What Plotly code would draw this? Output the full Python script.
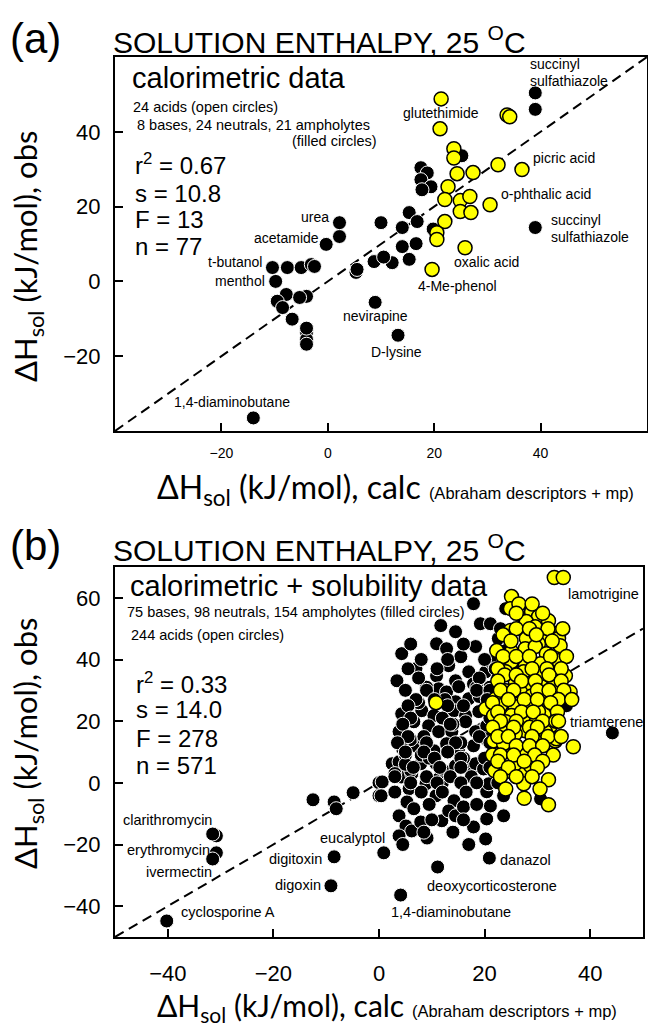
import plotly.graph_objects as go

W, H = 648, 1025

# ---------------- Panel (a) data (calorimetric) ----------------
a_base_x = [39, 39, 39, 25.2, 17.5, 18.7, 17.5, 19.4, 17.7, 15.3, 16.8, 14, 10, 14, 8.7, 12.1, 15.3,
            8.9, 13.2, -0.3, 2.2, 2.2, -10.4, -7.6, -5, -3.1, -2.5, -9.8, -7.8, -9.5, -8.5, -6.7,
            -4, -5.3, -4, -4, -4, -4, 5.3, 5.5, 10.5, 16.6, 19.8, -14]
a_base_y = [50.4, 46, 14.4, 33.6, 30.4, 29, 27.2, 25.3, 24.5, 18.4, 16, 14.4, 15.7, 9.3, 5.3, 5, 5.9,
            -5.6, -14.4, 9.9, 12, 15.7, 3.7, 3.7, 3.7, 4.5, 4.0, 0, -3.5, -5.3, -7, -10.1,
            -4, -4.3, -13.6, -15.5, -16.8, -12.5, 2.4, 3.2, 6.5, 10.1, 14, -36.5]
a_acid_x = [21.3, 21.1, 33.7, 34.2, 23.7, 23.7, 32, 36.5, 24.3, 27.3, 22.6, 22, 24.9, 26.7, 30.5,
            24.9, 26.9, 22, 20.5, 20.5, 25.8, 19.6]
a_acid_y = [48.8, 40.8, 44.5, 44, 35.5, 33, 31.2, 29.9, 28.8, 29.1, 25.3, 21.9, 21.6, 22.7, 20.5,
            18.7, 18.4, 16, 13, 11.2, 9, 3.2]

# ---------------- Panel (b) data (calorimetric + solubility) ----------------
b_base_x = [-12.5, -8.5, -8.1, -4.9, 0, 0, -8.5, -9.1, 0.9, 11.1, 4.1, 20.9, 44.2,
            -30.8, -31.5, -30.8, -31.5, -40.2,
            17.9, 24, 27.4, 11.7, 14.5, 19.2, 21.1, 4.3, 10.9, 12.8, 15.5, 18.3, 22.6, 23, 13.2, 17,
            20.2, 14.5, 10.9, 3.4, 17.9, 11.3, 12.8, 15.1, 21.1, 24, 14.5, 17, 4.3, 8.1, 10.4, 14.2,
            16.4, 18.9, 3.8, 6.6, 9.4, 11.3, 13.8, 16.4, 18.3, 20.4, 7, 10.4, 12.8, 15.1, 17.9, 20.2,
            35.5, 27,
            2.5, 0.6, 0.4, 4.2, 3.8, 5.7, 5.3, 6.6, 5.1, 6.2, 7.9, 3.8, 9.1, 6.2, 7.9, 8.9, 11.3, 10.8,
            11.9, 14.2, 13.2, 14.5, 16, 17.9, 20.2, 20.4, 21.1, 20.4, 20.8, 23.6, 23.6, 30.6, 12.6,
            14.5, 17.4, 16.4, 10.8, 3.8, 18.3, 19.8,
            3, 5, 6, 8, 6, 7, 9, 5, 7.5, 9.5, 12, 14, 16, 19, 21, 22,
            4.5, 8.5, 12.5, 15.5, 18.5, 22.5, 25, 26.5, 24.5, 27,
            6, 16, 8, 13, 20, 5.5, 11, 22, 7.5, 19, 22.5, 5, 9, 18.5, 21, 7, 10.5, 20.5,
            5.5, 13, 16, 6, 12, 21, 4.5, 13.5, 5.5, 8.5, 19, 3.5, 9, 14.5, 21, 5, 8.5, 13,
            10.5, 15.5, 20, 6.5, 11.5, 15.5, 21, 3, 9, 13.5, 17.5, 6, 11, 15.5, 18.5,
            3, 8, 12, 16.5, 9.5, 18.5, 10, 16, 8.5, 14, 4.5, 17]
b_base_y = [-5.5, -6.2, -8.4, -3.2, 0, -4.2, -24, -33.4, -22.7, -27.3, -36.4, -24.4, 16.2,
            -17.2, -16.6, -22.7, -24.7, -44.8,
            58.1, 56.5, 56.5, 51, 49, 51.6, 51.6, 41.9, 45.1, 43.5, 40.9, 44.2, 46.8, 50, 38, 36,
            36, 33.1, 34.7, 33.1, 32.1, 30.5, 29.5, 31.2, 39.3, 42.9, 26.3, 27.3, 22.4, 23.4, 21.8, 23.4,
            21.8, 23.1, 16.6, 19.8, 18.5, 16.6, 16.6, 19.8, 16.6, 18.5, 12, 10.4, 12.7, 10, 12, 14.3,
            25, 53.9,
            6.2, 0.3, -4.2, 1.9, -10.7, -1.9, -6.2, -8.4, -14, -15.6, -12.7, -17.2, -17.9, 2.9, 6.2, -0.3,
            1.3, -4.2, -12.3, -5.8, -9.1, -10.7, -7.8, -14.3, -18.2, -11.7, -7.5, -2.9, -0.3, -4.2, -10.7,
            -5.2, 3.6, 5.5, 3.6, 6.8, 6.2, 6.8, 6.2, 4.5,
            3, 9, 14, 9, 4, 37, 31, 6, 26, 8, 0, 19, 8, 28, 31, 9,
            11, 14, 27, 13, 31, 0, 20, 38, 47, 8,
            45, 45, 40, 40, 40, 37, 37, 37, 34, 34, 34, 30, 30, 30, 30, 27, 27, 27,
            25, 25, 25, 21, 21, 21, 19, 19, 15, 15, 15, 13, 13, 13, 13, 10, 10, 10,
            8, 8, 8, 5, 5, 5, 5, 2, 2, 2, 2, 0, 0, 0, 0,
            -3, -3, -3, -3, -7, -7, -12, -12, -16, -16, -20, -20]
b_acid_x = [25.1, 24.9, 28.9, 30.2, 32.1, 27.9, 29.6, 24.9, 27.9, 31.7, 33.4, 34, 30.2, 34.3, 22.3,
            25.1, 27.7, 29.6, 31.7, 34, 25.1, 27.7, 30.6, 24, 27.4, 30.2, 33.4, 35.3, 25.8, 28.3, 30.8,
            33, 36.2, 24, 26.8, 28.9, 31.1, 22.1, 10.8, 20.2, 23, 25.8, 28.3, 31.5, 33.4, 21.7, 25.1,
            27.7, 30.2, 24, 29.8, 32.5, 23.2, 27.7, 33.4, 36.8, 24, 27, 30.6, 21.7, 23.6, 33.6, 25.8,
            31.5, 21.9, 24, 27, 27.4, 32.1, 32.1, 28.7, 25.8, 33.2, 34.9,
            26.5, 29, 26, 31, 26, 28.5, 32, 34.8, 23.5, 29.8, 25, 32.8,
            23.5, 26, 28.5, 32.5, 35.5, 22.5, 29, 31.8, 34.5, 23.8, 26, 32.2,
            22.5, 27, 29.6, 34.5, 23, 25.5, 30, 32.2, 35, 24.5, 27.5, 30, 34, 36.5, 21.5, 32.5,
            22.5, 27, 29.2, 33.8, 23, 26, 31, 33.5, 34, 21.5, 25.5, 28.5, 30,
            22.5, 24.5, 29, 32, 34.5, 26, 28.5, 31, 21.5, 23, 25.5, 29.5, 33,
            22.5, 27.5, 31, 24.5, 30, 23, 26, 29, 24, 30.5, 27.5]
b_acid_y = [60.4, 56.5, 55.5, 53.9, 52.6, 52.3, 50.6, 49.4, 46.8, 47.4, 48.4, 46.8, 45.1, 44.5, 42.9,
            42.5, 43.5, 44.2, 41.9, 39.6, 39.3, 38, 38.6, 36, 36, 34.7, 34.4, 34.7, 33.1, 32.1, 31.2,
            31.2, 29.5, 29.9, 29.5, 28.2, 27.9, 27.3, 26, 24, 25, 24.7, 25, 23.1, 24.7, 21.8, 21.8,
            20.8, 23.1, 19.8, 19.8, 18.5, 16.6, 16.9, 13.6, 11.7, 10.4, 10, 13.6, 13.6, 12.7, 14.3, 15.9,
            16.6, 3.9, 3.6, 3.9, -0.3, 1, -7.1, 5.5, 6.2, 66.6, 66.6,
            58, 58, 55, 55, 50, 50, 50, 50, 48, 48, 46, 46,
            41, 41, 41, 41, 41, 37, 37, 37, 37, 35, 35, 35,
            33, 33, 33, 33, 30, 30, 30, 30, 30, 27, 27, 27, 27, 27, 26, 26,
            23, 23, 23, 23, 20, 20, 20, 20, 20, 18, 18, 18, 18,
            15, 15, 15, 15, 15, 12, 12, 12, 9, 9, 9, 9, 9,
            7, 7, 7, 5, 5, 2, 2, 2, -2, -2, -5]

a_range = [-40, 60]
b_range = [-50, 50]
b_yrange = [-50, 70]

a_labels = [("urea", 0.66, 17.3, "right"), ("acetamide", -1.2, 11.7, "right"),
            ("t-butanol", -11.9, 5.3, "right"), ("menthol", -11.4, 0, "right"),
            ("1,4-diaminobutane", -29.2, -32.3, "left"), ("nevirapine", 8.9, -9.3, "center"),
            ("D-lysine", 12.9, -18.9, "center"), ("4-Me-phenol", 16.6, -1.1, "left"),
            ("oxalic acid", 23.4, 5.1, "left"), ("o-phthalic acid", 32.2, 23.5, "left"),
            ("picric acid", 38.2, 33.1, "left"),
            ("succinyl", 37.6, 58.0, "left"), ("sulfathiazole", 37.6, 53.6, "left"),
            ("succinyl", 41.6, 16.3, "left"), ("sulfathiazole", 41.6, 12.0, "left"),
            ("glutethimide", 13.8, 45.1, "left")]
b_labels = [("lamotrigine", 35.5, 61.4, "left"), ("triamterene", 35.7, 19.8, "left"),
            ("clarithromycin", -48.9, -12, "left"), ("erythromycin", -48.1, -21.8, "left"),
            ("ivermectin", -44.5, -28.9, "left"), ("cyclosporine A", -37.9, -41.9, "left"),
            ("digitoxin", -21.3, -24.7, "left"), ("digoxin", -20, -33.1, "left"),
            ("eucalyptol", -11.5, -17.9, "left"), ("danazol", 22.5, -25, "left"),
            ("deoxycorticosterone", 8.7, -33.4, "left"), ("1,4-diaminobutane", 1.9, -41.9, "left")]

ARIAL = "Liberation Sans, Arial, sans-serif"
CALI = "Lato, Carlito, Calibri, sans-serif"


def px(x):
    return x / W


def py(y):
    return 1 - y / H


fig = go.Figure()

MS = 14
DASH = dict(color="black", width=2, dash="10px,6px")
# panel (a)
fig.add_trace(go.Scatter(x=a_range, y=a_range, mode="lines", line=DASH, xaxis="x", yaxis="y", hoverinfo="skip"))
fig.add_trace(go.Scatter(x=a_base_x, y=a_base_y, mode="markers", xaxis="x", yaxis="y",
                         marker=dict(size=MS, color="black", line=dict(color="white", width=1))))
fig.add_trace(go.Scatter(x=a_acid_x, y=a_acid_y, mode="markers", xaxis="x", yaxis="y",
                         marker=dict(size=MS, color="#FFFF00", line=dict(color="black", width=1.5))))
# panel (b)
fig.add_trace(go.Scatter(x=b_range, y=b_range, mode="lines", line=DASH, xaxis="x2", yaxis="y2", hoverinfo="skip"))
fig.add_trace(go.Scatter(x=b_base_x, y=b_base_y, mode="markers", xaxis="x2", yaxis="y2",
                         marker=dict(size=MS, color="black", line=dict(color="white", width=1))))
fig.add_trace(go.Scatter(x=b_acid_x, y=b_acid_y, mode="markers", xaxis="x2", yaxis="y2",
                         marker=dict(size=MS, color="#FFFF00", line=dict(color="black", width=1.5))))

axis_common = dict(showgrid=False, zeroline=False, showline=True, mirror=True, linecolor="black",
                   linewidth=2, ticks="inside", ticklen=8, tickwidth=2, tickcolor="black")

fig.update_layout(
    width=W, height=H, margin=dict(l=0, r=0, t=0, b=0),
    paper_bgcolor="white", plot_bgcolor="white", showlegend=False,
    xaxis=dict(domain=[px(115), px(647)], range=a_range, anchor="y", tickvals=[-20, 0, 20, 40],
               tickfont=dict(family=ARIAL, size=14, color="black"), ticklabelstandoff=8, **axis_common),
    yaxis=dict(domain=[py(431), py(57)], range=a_range, anchor="x", tickvals=[-20, 0, 20, 40],
               tickfont=dict(family=ARIAL, size=22, color="black"), ticklabelstandoff=8, **axis_common),
    xaxis2=dict(domain=[px(115), px(643)], range=b_range, anchor="y2", tickvals=[-40, -20, 0, 20, 40],
                tickfont=dict(family=ARIAL, size=22, color="black"), ticklabelstandoff=16, **axis_common),
    yaxis2=dict(domain=[py(937), py(567)], range=b_yrange, anchor="x2", tickvals=[-40, -20, 0, 20, 40, 60],
                tickfont=dict(family=ARIAL, size=22, color="black"), ticklabelstandoff=8, **axis_common),
)

ann = []


def add_paper(text, x, y, size, family=ARIAL, xanchor="left", angle=0):
    ann.append(dict(text=text, x=px(x), y=py(y), xref="paper", yref="paper", showarrow=False,
                    xanchor=xanchor, yanchor="middle", textangle=angle,
                    font=dict(family=family, size=size, color="black")))


# titles
add_paper("(a)", 8, 38, 42)
add_paper("SOLUTION ENTHALPY, 25 <sup>O</sup>C", 111, 40, 30)
add_paper("(b)", 8, 545, 42)
add_paper("SOLUTION ENTHALPY, 25 <sup>O</sup>C", 111, 548, 30)

# panel (a) text
add_paper("calorimetric data", 130, 78, 29)
add_paper("24 acids (open circles)", 131, 107, 14.5)
add_paper("8 bases, 24 neutrals, 21 ampholytes", 135, 125, 14.5)
add_paper("(filled circles)", 379, 141, 14.5, xanchor="right")
add_paper("r<sup>2</sup> = 0.67", 133, 164, 24)
add_paper("s = 10.8", 133, 194, 24)
add_paper("F = 13", 133, 220, 24)
add_paper("n = 77", 133, 246, 24)

# panel (b) text
add_paper("calorimetric + solubility data", 128, 586, 29)
add_paper("75 bases, 98 neutrals, 154 ampholytes (filled circles)", 125, 612, 14.5)
add_paper("244 acids (open circles)", 129, 635, 14.5)
add_paper("r<sup>2</sup> = 0.33", 134, 683, 24)
add_paper("s = 14.0", 134, 709, 24)
add_paper("F = 278", 134, 738, 24)
add_paper("n = 571", 134, 765, 24)

# axis titles
xt_a = ("ΔH<sub>sol</sub> (kJ/mol), calc <span style='font-family:Liberation Sans; font-size:16.5px'>"
        "(Abraham descriptors + mp)</span>")
xt_b = ("ΔH<sub>sol</sub> (kJ/mol), calc <span style='font-family:Liberation Sans; font-size:16.5px'>"
        "(Abraham descriptors + mp)</span>")
add_paper(xt_a, 155, 489, 32, family=CALI)
add_paper(xt_b, 155, 1007, 30, family=CALI)
yt = "ΔH<sub>sol</sub> (kJ/mol), obs"
add_paper(yt, 27, 257, 31, family=CALI, xanchor="center", angle=-90)
add_paper(yt, 27, 744, 31, family=CALI, xanchor="center", angle=-90)

for t, x, y, anc in a_labels:
    ann.append(dict(text=t, x=x, y=y, xref="x", yref="y", showarrow=False, xanchor=anc, yanchor="middle",
                    font=dict(family=ARIAL, size=14, color="black")))
for t, x, y, anc in b_labels:
    ann.append(dict(text=t, x=x, y=y, xref="x2", yref="y2", showarrow=False, xanchor=anc, yanchor="middle",
                    font=dict(family=ARIAL, size=14.5, color="black")))

fig.update_layout(annotations=ann)
fig.write_html("out.html", config={"displayModeBar": False},
               post_script="document.body.style.margin='0px';document.body.style.overflow='hidden';")
